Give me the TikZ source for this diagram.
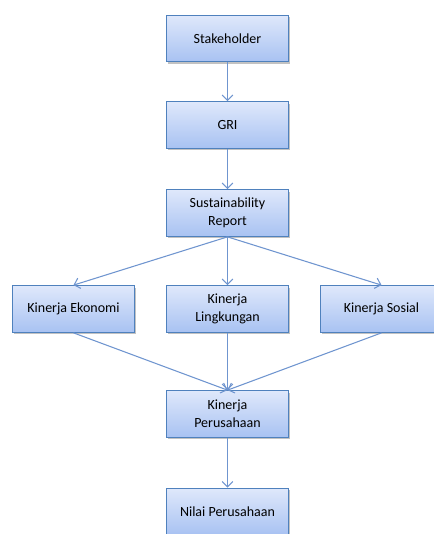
\documentclass[tikz,border=0pt]{standalone}
\usepackage{fontspec}
\setmainfont{Carlito}
\usetikzlibrary{arrows.meta,shadows}

\definecolor{garis}{HTML}{4F81BD}
\definecolor{panah}{HTML}{6F95CF}
\definecolor{atas}{HTML}{DFE8FB}
\definecolor{bawah}{HTML}{A8C2F2}

\begin{document}
\begin{tikzpicture}[x=0.75pt,y=-0.75pt,
    kotak/.style={draw=garis, line width=0.8pt, top color=atas, bottom color=bawah,
        minimum width=92pt, minimum height=35pt, inner sep=0pt, align=center,
        font=\fontsize{10.5}{13.5}\selectfont,
        drop shadow={shadow xshift=1pt, shadow yshift=-1.5pt, fill=black!40, opacity=0.6}},
    panahku/.style={draw=panah, line width=0.8pt, -{Straight Barb[length=4pt,width=8pt]}}]
        % Batas gambar
        \useasboundingbox (0,0) rectangle (434,534);

        % Kotak-kotak
        \node[kotak] (st) at (227.5,38.5) {Stakeholder};
        \node[kotak] (gri) at (227.5,125) {GRI};
        \node[kotak] (sr) at (227.5,213) {Sustainability\\Report};
        \node[kotak] (eko) at (73.5,309) {Kinerja Ekonomi};
        \node[kotak] (ling) at (227.5,309) {Kinerja\\Lingkungan};
        \node[kotak] (sos) at (381.5,309) {Kinerja Sosial};
        \node[kotak] (kp) at (227.5,414) {Kinerja\\Perusahaan};
        \node[kotak] (nilai) at (227.5,511.5) {Nilai Perusahaan};

        % Panah
        \draw[panahku] (st) -- (gri);
        \draw[panahku] (gri) -- (sr);
        \foreach \k in {eko,ling,sos}
            \draw[panahku] (sr.south) -- (\k.north);
        \foreach \k in {eko,ling,sos}
            \draw[panahku] (\k.south) -- (kp.north);
        \draw[panahku] (kp) -- (nilai);
    \end{tikzpicture}
\end{document}
